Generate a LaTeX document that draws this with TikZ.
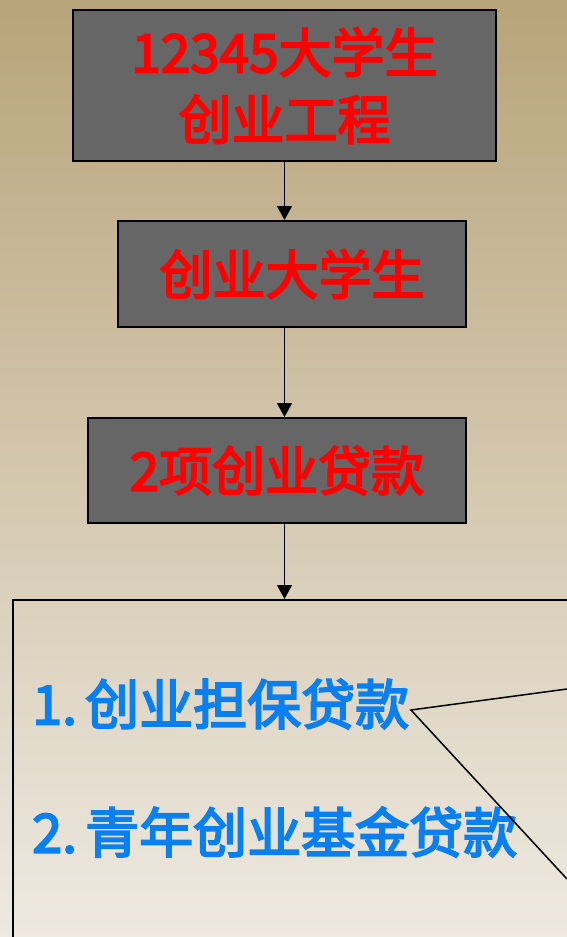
\documentclass[tikz,border=0pt]{standalone}
\usepackage{fontspec}
\setmainfont{Noto Sans CJK SC}
\newfontfamily\heavy{Noto Sans CJK SC}[FakeBold=3.5]
\usetikzlibrary{arrows.meta,shadings}
\definecolor{bgtop}{RGB}{184,164,122}
\definecolor{bgbot}{RGB}{238,233,225}
\definecolor{boxgray}{RGB}{102,102,102}
\definecolor{itemblue}{RGB}{10,128,240}
\begin{document}
\begin{tikzpicture}[x=1pt,y=-1pt,
  stepbox/.style={draw=black,line width=2pt,fill=boxgray,text=red,
    font=\heavy\fontsize{53}{67}\selectfont,inner sep=0pt,align=center},
  flow/.style={draw=black,line width=1.5pt,-{Triangle[width=15pt,length=14pt]}},
  item/.style={text=itemblue,font=\heavy\fontsize{54}{67}\selectfont,inner sep=0pt,anchor=west},
  callout/.style={draw=black,line width=1.5pt,line join=miter}]
\useasboundingbox (0,0) rectangle (567,937);
\clip (0,0) rectangle (567,937);
\shade[top color=bgtop,bottom color=bgbot] (0,0) rectangle (567,937);
\node[stepbox,minimum width=423pt,minimum height=151pt] (b1) at (284.5,85.5) {12345大学生\\创业工程};
\node[stepbox,minimum width=348pt,minimum height=106pt] (b2) at (292,274) {创业大学生};
\node[stepbox,minimum width=378pt,minimum height=105pt] (b3) at (277,470.5) {2项创业贷款};
\node[draw=black,line width=1.5pt,minimum width=620pt,minimum height=420pt,anchor=north west,inner sep=0pt] (panel) at (12,599) {};
\draw[flow] (b1.south) -- (b1.south |- b2.north);
\draw[flow] (b2.south -| b1.south) -- (b1.south |- b3.north);
\draw[flow] (b3.south -| b1.south) -- (b1.south |- panel.north);
\node[item] (i1) at (32,704) {1.\hspace{0.15em}创业担保贷款};
\node[item] (i2) at (32,832) {2.\hspace{0.15em}青年创业基金贷款};
\coordinate (c1) at (567,689);
\coordinate (apex) at (411,710);
\coordinate (c2) at (567,879);
\draw[callout] (c1) -- (apex) -- (c2);
\end{tikzpicture}
\end{document}
